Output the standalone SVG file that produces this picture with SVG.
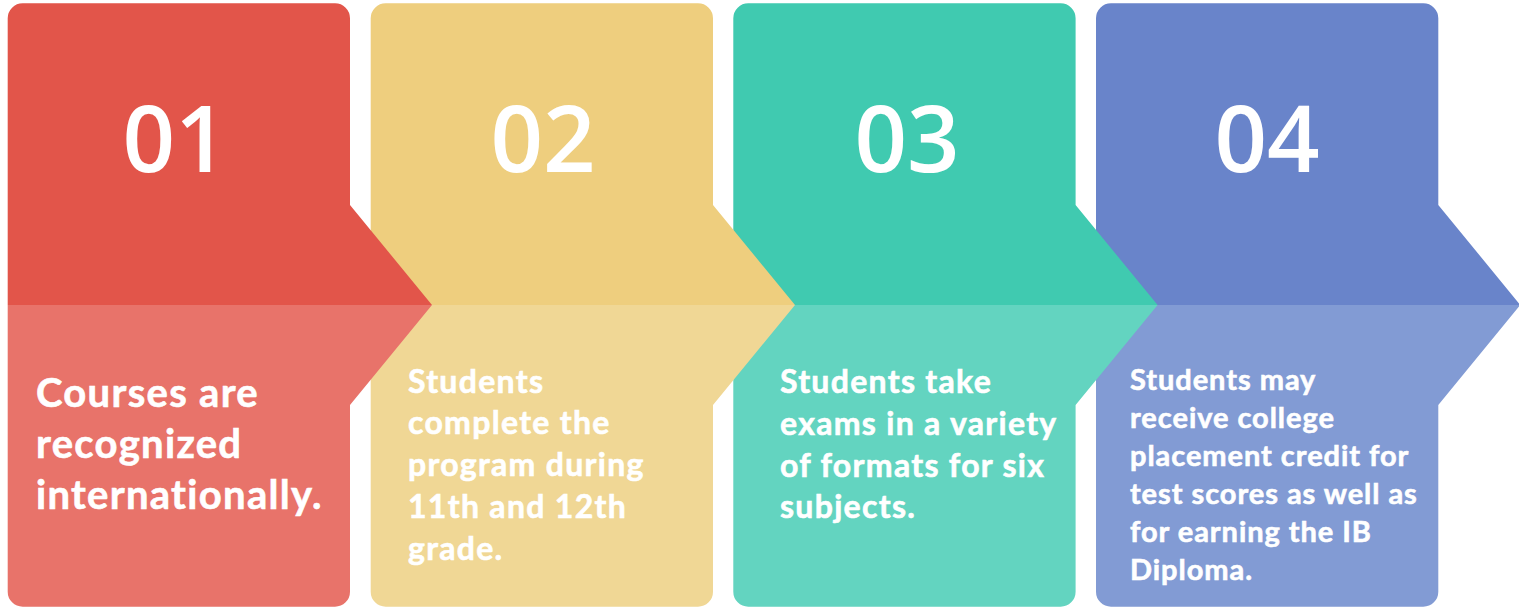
<svg xmlns="http://www.w3.org/2000/svg" width="1519" height="607" viewBox="0 0 1519 607">
<style>
.num{font-family:"Open Sans","Noto Sans",sans-serif;font-weight:600;font-size:92px;fill:#fff;text-anchor:middle}
.txt{font-family:Lato,"Liberation Sans",sans-serif;font-weight:700;fill:#fff;stroke:#fff;stroke-width:0.6}
.t1{font-size:40px;letter-spacing:1.3px}
.t2{font-size:32px;letter-spacing:1.3px}
.t4{font-size:29px;letter-spacing:0.95px}
</style>
<rect width="1519" height="607" fill="#fff"/>
<g id="step4">
<path d="M1096,305 V18.3 A15,15 0 0 1 1111,3.3 H1423.3 A15,15 0 0 1 1438.3,18.3 V205 L1520.3,305 Z" fill="#6984CA"/>
<path d="M1096,305 H1520.3 L1438.3,405 V591.7 A15,15 0 0 1 1423.3,606.7 H1111 A15,15 0 0 1 1096,591.7 Z" fill="#829BD4"/>
<text class="num" x="1267" y="172">04</text>
<text class="txt t4"><tspan x="1130" y="390">Students may</tspan><tspan x="1130" y="428">receive college</tspan><tspan x="1130" y="466">placement credit for</tspan><tspan x="1130" y="504">test scores as well as</tspan><tspan x="1130" y="542">for earning the IB</tspan><tspan x="1130" y="580">Diploma.</tspan></text>
</g>
<g id="step3">
<path d="M733.3,305 V18.3 A15,15 0 0 1 748.3,3.3 H1060.6 A15,15 0 0 1 1075.6,18.3 V205 L1157.6,305 Z" fill="#40CAB0"/>
<path d="M733.3,305 H1157.6 L1075.6,405 V591.7 A15,15 0 0 1 1060.6,606.7 H748.3 A15,15 0 0 1 733.3,591.7 Z" fill="#63D4C0"/>
<text class="num" x="907" y="172">03</text>
<text class="txt t2"><tspan x="780" y="393">Students take</tspan><tspan x="780" y="435">exams in a variety</tspan><tspan x="780" y="477">of formats for six</tspan><tspan x="780" y="518">subjects.</tspan></text>
</g>
<g id="step2">
<path d="M370.7,305 V18.3 A15,15 0 0 1 385.7,3.3 H698 A15,15 0 0 1 713,18.3 V205 L795,305 Z" fill="#EECE7E"/>
<path d="M370.7,305 H795 L713,405 V591.7 A15,15 0 0 1 698,606.7 H385.7 A15,15 0 0 1 370.7,591.7 Z" fill="#F0D795"/>
<text class="num" x="543" y="172">02</text>
<text class="txt t2"><tspan x="408" y="393">Students</tspan><tspan x="408" y="434">complete the</tspan><tspan x="408" y="476">program during</tspan><tspan x="408" y="518">11th and 12th</tspan><tspan x="408" y="560">grade.</tspan></text>
</g>
<g id="step1">
<path d="M7.7,305 V18.3 A15,15 0 0 1 22.7,3.3 H335 A15,15 0 0 1 350,18.3 V205 L432,305 Z" fill="#E2554A"/>
<path d="M7.7,305 H432 L350,405 V591.7 A15,15 0 0 1 335,606.7 H22.7 A15,15 0 0 1 7.7,591.7 Z" fill="#E8736A"/>
<text class="num" x="175" y="172">01</text>
<text class="txt t1"><tspan x="36" y="407">Courses are</tspan><tspan x="36" y="458">recognized</tspan><tspan x="36" y="509">internationally.</tspan></text>
</g>
<g id="connectors"></g>
</svg>
